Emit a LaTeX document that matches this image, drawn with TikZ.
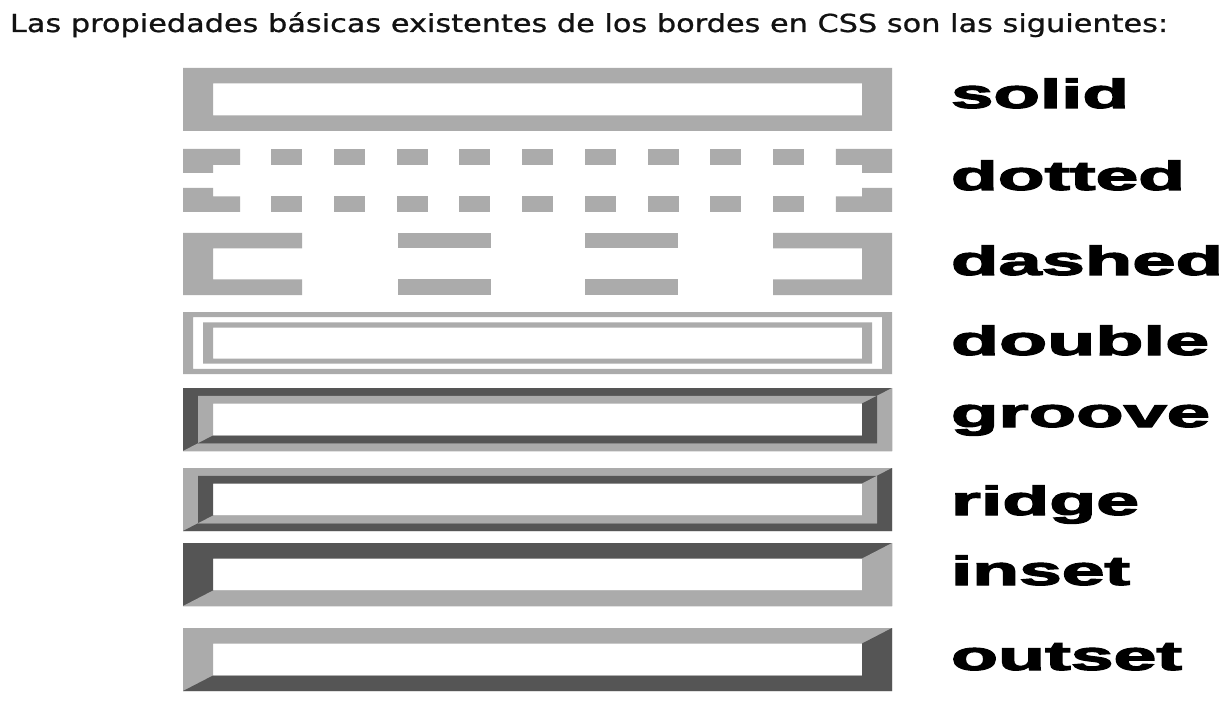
\documentclass[tikz,border=0pt]{standalone}
\usepackage{fontspec}
\usepackage{graphicx}
\newfontfamily\titlef[FakeBold=0.8]{DejaVu Sans}
\newfontfamily\labf[FakeBold=2.5]{Liberation Sans Bold}
\definecolor{lt}{HTML}{ABABAB}
\definecolor{dk}{HTML}{555555}
\tikzset{
  lbl/.style={anchor=base west,inner sep=0pt,outer sep=0pt,text=black},
  ttl/.style={anchor=base west,inner sep=0pt,outer sep=0pt,text=black!93}
}
% #1 top, #2 bottom, #3 outer inset x, #4 outer inset y, #5 inner inset x, #6 inner inset y, #7 top/left colour, #8 bottom/right colour
\newcommand\bevelfr[8]{%
  \fill[#7,even odd rule] (183+#3,#1+#4) rectangle (892-#3,#2-#4) (183+#5,#1+#6) rectangle (892-#5,#2-#6);
  \fill[#8] (892-#3,#1+#4) -- (892-#3,#2-#4) -- (183+#3,#2-#4) -- (183+#5,#2-#6) -- (892-#5,#2-#6) -- (892-#5,#1+#6) -- cycle;
}
\begin{document}
\begin{tikzpicture}[x=1pt,y=-1pt]
\useasboundingbox (0,0) rectangle (1223,703);
\fill[white] (0,0) rectangle (1223,703);

% title
\node[ttl] (title) at (10,32) {\resizebox{1158pt}{\height}{\titlef\fontsize{24.8}{28}\selectfont Las propiedades básicas existentes de los bordes en CSS son las siguientes:}};

% solid
\fill[lt,even odd rule] (183,68) rectangle (892,131) (213,83.5) rectangle (862,115.5);

% dotted (top 149, bottom 212)
\fill[lt] (183,149) -- (240,149) -- (240,165) -- (213,165) -- (213,173) -- (183,173) -- cycle;
\fill[lt] (183,212) -- (240,212) -- (240,196.5) -- (213,196.5) -- (213,188) -- (183,188) -- cycle;
\fill[lt] (892,149) -- (835.75,149) -- (835.75,165) -- (862,165) -- (862,173) -- (892,173) -- cycle;
\fill[lt] (892,212) -- (835.75,212) -- (835.75,196.5) -- (862,196.5) -- (862,188) -- (892,188) -- cycle;
\foreach \k in {0,...,8}{
  \fill[lt] (271+62.75*\k,149) rectangle (302+62.75*\k,165);
  \fill[lt] (271+62.75*\k,196.5) rectangle (302+62.75*\k,212);
}

% dashed (top 233, bottom 295)
\fill[lt] (302,233) -- (183,233) -- (183,295) -- (302,295) -- (302,279.5) -- (213,279.5) -- (213,248.5) -- (302,248.5) -- cycle;
\fill[lt] (773,233) -- (892,233) -- (892,295) -- (773,295) -- (773,279.5) -- (862,279.5) -- (862,248.5) -- (773,248.5) -- cycle;
\foreach \a/\b in {398/491,585/678}{
  \fill[lt] (\a,233) rectangle (\b,248.5);
  \fill[lt] (\a,279.5) rectangle (\b,295);
}

% double (top 312, bottom 374)
\fill[lt,even odd rule] (183,312) rectangle (892,374) (193,317.2) rectangle (882,368.8);
\fill[lt,even odd rule] (203,322.3) rectangle (872,363.7) (213,327.5) rectangle (862,358.5);

% groove
\bevelfr{388}{451}{0}{0}{15}{7.75}{dk}{lt}
\bevelfr{388}{451}{15}{7.75}{30}{15.5}{lt}{dk}

% ridge
\bevelfr{468}{531}{0}{0}{15}{7.75}{lt}{dk}
\bevelfr{468}{531}{15}{7.75}{30}{15.5}{dk}{lt}

% inset
\bevelfr{543}{606}{0}{0}{30}{15.5}{dk}{lt}

% outset
\bevelfr{628}{691}{0}{0}{30}{15.5}{lt}{dk}

% labels
\node[lbl] (lsolid)  at (951,108) {\resizebox{178pt}{\height}{\labf\fontsize{41}{45}\selectfont solid}};
\node[lbl] (ldotted) at (951,190) {\resizebox{234pt}{\height}{\labf\fontsize{41}{45}\selectfont dotted}};
\node[lbl] (ldashed) at (951,275) {\resizebox{272pt}{\height}{\labf\fontsize{41}{45}\selectfont dashed}};
\node[lbl] (ldouble) at (951,355) {\resizebox{258pt}{\height}{\labf\fontsize{41}{45}\selectfont double}};
\node[lbl] (lgroove) at (951,427) {\resizebox{259pt}{\height}{\labf\fontsize{41}{45}\selectfont groove}};
\node[lbl] (lridge)  at (951,515) {\resizebox{188pt}{\height}{\labf\fontsize{41}{45}\selectfont ridge}};
\node[lbl] (linset)  at (951,585) {\resizebox{179pt}{\height}{\labf\fontsize{41}{45}\selectfont inset}};
\node[lbl] (loutset) at (951,670) {\resizebox{231pt}{\height}{\labf\fontsize{41}{45}\selectfont outset}};
\end{tikzpicture}
\end{document}
